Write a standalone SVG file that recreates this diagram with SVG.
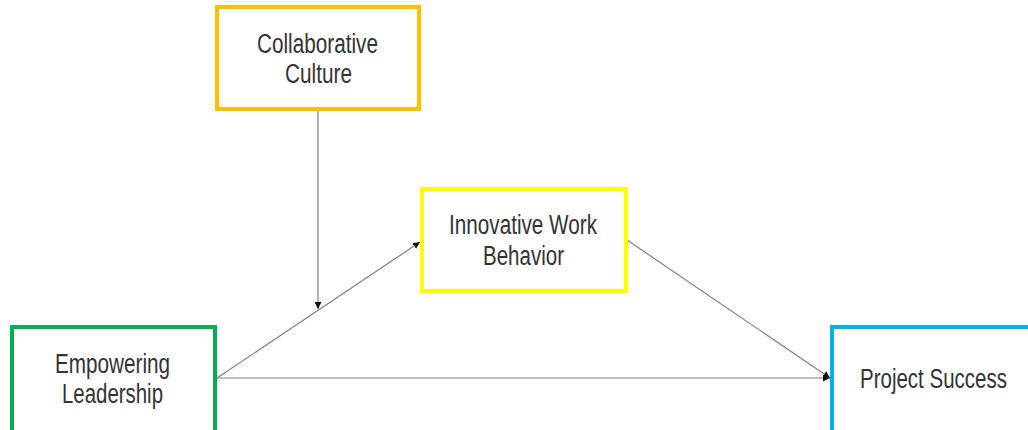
<svg xmlns="http://www.w3.org/2000/svg" width="1028" height="430" viewBox="0 0 1028 430">
<style>
.box{fill:#fff;stroke-width:4}
.t{font-family:"Liberation Sans",Arial,sans-serif;font-size:27px;fill:#333}
.c{stroke:#808080;stroke-width:1.2;fill:none;marker-end:url(#ah)}
</style>
<defs>
<marker id="ah" viewBox="0 0 10 10" refX="10" refY="5" markerWidth="7" markerHeight="7" markerUnits="userSpaceOnUse" orient="auto">
<path d="M0,0 L10,5 L0,10 Z" fill="#111"/>
</marker>
</defs>
<rect width="1028" height="430" fill="#fff"/>
<g id="connectors">
<line class="c" x1="318" y1="110" x2="318" y2="309"/>
<line class="c" x1="217" y1="378" x2="420" y2="242"/>
<line class="c" x1="217" y1="378" x2="830" y2="378"/>
<line class="c" x1="627" y1="240" x2="830" y2="378"/>
</g>
<g id="collaborative-culture">
<rect class="box" x="217" y="7" width="202" height="102" stroke="#FFC000"/>
<text class="t" x="257" y="53" textLength="121" lengthAdjust="spacingAndGlyphs">Collaborative</text>
<text class="t" x="285" y="83" textLength="67" lengthAdjust="spacingAndGlyphs">Culture</text>
</g>
<g id="innovative-work-behavior">
<rect class="box" x="422" y="189" width="204" height="102" stroke="#FFFF00"/>
<text class="t" x="449" y="234" textLength="148" lengthAdjust="spacingAndGlyphs">Innovative Work</text>
<text class="t" x="483" y="265" textLength="81" lengthAdjust="spacingAndGlyphs">Behavior</text>
</g>
<g id="empowering-leadership">
<rect class="box" x="12" y="327" width="203" height="110" stroke="#00B050"/>
<text class="t" x="55" y="373" textLength="115" lengthAdjust="spacingAndGlyphs">Empowering</text>
<text class="t" x="62" y="403" textLength="101" lengthAdjust="spacingAndGlyphs">Leadership</text>
</g>
<g id="project-success">
<rect class="box" x="832" y="327" width="210" height="110" stroke="#00B0F0"/>
<text class="t" x="860" y="388" textLength="147" lengthAdjust="spacingAndGlyphs">Project Success</text>
</g>
</svg>
